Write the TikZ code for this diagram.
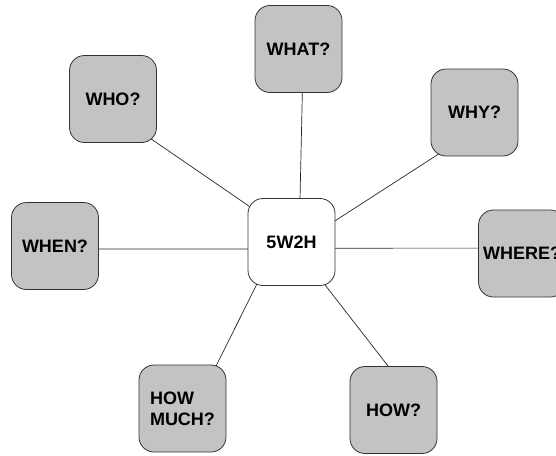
\documentclass[tikz,border=0pt]{standalone}
\usepackage{fontspec}
\setmainfont{Liberation Sans}
\usetikzlibrary{backgrounds}
\definecolor{boxgray}{HTML}{C3C3C3}
\newcommand{\spokepoints}{
    \coordinate (p0) at (291.5,242);
    \coordinate (p1) at (298.5,49);
    \coordinate (p2) at (113,99);
    \coordinate (p3) at (474.5,112.5);
    \coordinate (p4) at (55,246);
    \coordinate (p5) at (522,253.5);
    \coordinate (p6) at (182.5,408.5);
    \coordinate (p7) at (393.5,410);
}
\tikzset{
    qbox/.style={draw=black!80, line width=0.8pt, fill=boxgray, rounded corners=15pt,
        minimum width=87pt, minimum height=87pt, inner sep=2pt,
        font=\fontsize{18}{21}\selectfont\bfseries},
    hubbox/.style={qbox, fill=white},
    spoke/.style={draw=black!85, line width=0.7pt, shorten <=-8pt, shorten >=-8pt}
}
\begin{document}
\begin{tikzpicture}[x=1pt,y=-1pt]
          \useasboundingbox (0,0) rectangle (556,455);
          \clip (0,0) rectangle (556,455);
          \spokepoints;

          \node[hubbox] (hub) at (p0) {5W2H};
          \node[qbox] (what) at (p1) {WHAT?};
          \node[qbox] (who) at (p2) {WHO?};
          \node[qbox] (why) at (p3) {WHY?};
          \node[qbox] (when) at (p4) {WHEN?};
          \node[qbox] (where) at (p5) {WHERE?};
          \node[qbox,align=left] (howmuch) at (p6) {HOW\\MUCH?};
          \node[qbox] (how) at (p7) {HOW?};

          % spokes behind the boxes
          \begin{pgfonlayer}{background}
          \draw[spoke] (what.-85) -- (hub.79);
          \draw[spoke] (who.-45) -- (hub.140);
          \draw[spoke] (why.-132) -- (hub.26);
          \draw[spoke] (when.-4) -- (hub.-171);
          \draw[spoke] (where.173) -- (hub.-8);
          \draw[spoke] (howmuch.52) -- (hub.-129);
          \draw[spoke] (how.97) -- (hub.-52);
          \end{pgfonlayer}
        \end{tikzpicture}
\end{document}
